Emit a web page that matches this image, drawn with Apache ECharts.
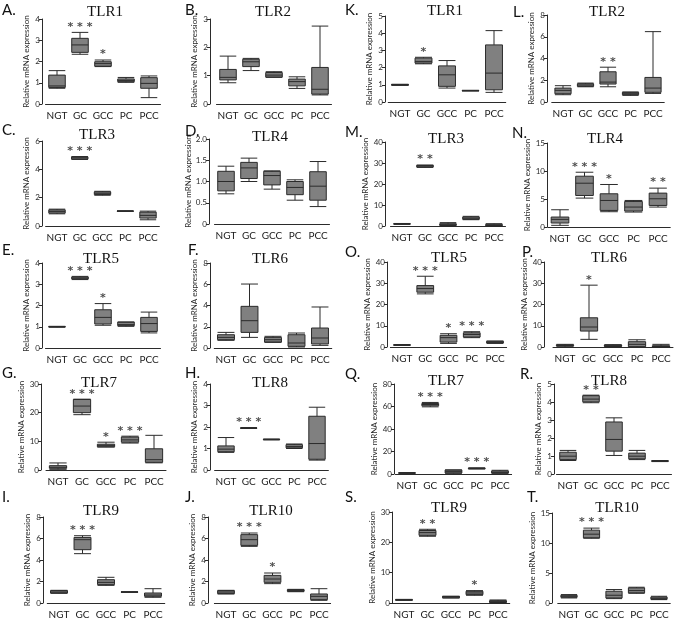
<!DOCTYPE html>
<html><head><meta charset="utf-8">
<script src="https://cdn.jsdelivr.net/npm/echarts@6/dist/echarts.min.js"></script>
<style>html,body{margin:0;padding:0;background:#fff}#c{width:675px;height:621px}</style>
</head><body><div id="c"></div>
<script>
const categories = ['NGT', 'GC', 'GCC', 'PC', 'PCC'];
const panelLetters = ['A','B','C','D','E','F','G','H','I','J','K','L','M','N','O','P','Q','R','S','T'];
const panelTitles = ['TLR1','TLR2','TLR3','TLR4','TLR5','TLR6','TLR7','TLR8','TLR9','TLR10',
                     'TLR1','TLR2','TLR3','TLR4','TLR5','TLR6','TLR7','TLR8','TLR9','TLR10'];
// y axis maxima and tick steps, panels A..T
const yAxisMax  = [4, 3, 6, 2, 4, 8, 30, 4, 8, 8,   5, 8, 40, 15, 40, 40, 80, 5, 30, 15];
const yAxisStep = [1, 1, 2, 0.5, 1, 2, 10, 1, 2, 2, 1, 2, 10, 5, 10, 10, 20, 1, 10, 5];

// box values per group: [min, Q1, median, Q3, max]
const boxA = [[0.74,0.78,0.85,1.36,1.57],[2.34,2.43,2.78,3.09,3.37],[1.76,1.78,1.9,1.99,2.07],[1.02,1.05,1.11,1.18,1.25],[0.3,0.74,0.97,1.24,1.32]];
const sigA = ['','***','*','',''];
const boxB = [[0.75,0.85,0.94,1.22,1.69],[1.18,1.32,1.49,1.58,1.61],[0.94,0.95,1.02,1.11,1.14],[0.55,0.64,0.79,0.88,0.96],[0.32,0.35,0.52,1.29,2.75]];
const sigB = ['','','','',''];
const boxC = [[0.86,0.91,1.03,1.14,1.19],[4.7,4.72,4.81,4.88,4.9],[2.17,2.22,2.31,2.41,2.45],[1.03,1.04,1.05,1.06,1.07],[0.44,0.56,0.75,0.98,1.05]];
const sigC = ['','***','','',''];
const boxD = [[0.71,0.78,1.0,1.24,1.36],[1.0,1.07,1.32,1.45,1.55],[0.82,0.92,1.14,1.24,1.25],[0.56,0.69,0.86,1.0,1.04],[0.41,0.56,0.89,1.23,1.47]];
const sigD = ['','','','',''];
const boxE = [[0.98,0.99,1.0,1.01,1.02],[3.22,3.25,3.29,3.34,3.37],[1.07,1.13,1.44,1.8,2.09],[1.02,1.05,1.1,1.22,1.22],[0.71,0.78,1.15,1.44,1.69]];
const sigE = ['','***','*','',''];
const boxF = [[0.72,0.78,1.0,1.25,1.47],[1.0,1.47,2.57,3.92,6.02],[0.53,0.56,0.78,1.0,1.1],[0.09,0.16,0.47,1.25,1.41],[0.25,0.38,0.94,1.88,3.86]];
const sigF = ['','','','',''];
const boxG = [[0.23,0.59,0.94,1.52,2.46],[19.3,20.0,22.3,24.6,24.7],[8.0,8.1,8.6,9.0,9.7],[9.4,9.7,10.5,11.5,11.8],[2.5,2.7,3.6,7.4,12.1]];
const sigG = ['','***','*','***',''];
const boxH = [[0.82,0.85,0.97,1.12,1.51],[1.93,1.94,1.95,1.96,1.97],[1.40,1.41,1.42,1.43,1.44],[1.0,1.03,1.09,1.18,1.21],[0.46,0.5,1.23,2.5,2.92]];
const sigH = ['','***','','',''];
const boxI = [[0.9,0.93,1.02,1.15,1.18],[4.59,4.96,5.89,6.1,6.26],[1.64,1.71,1.92,2.17,2.39],[1.0,1.01,1.02,1.03,1.04],[0.53,0.62,0.74,0.93,1.33]];
const sigI = ['','***','','',''];
const boxJ = [[0.84,0.87,1.02,1.15,1.18],[5.27,5.36,5.89,6.36,6.51],[1.8,1.92,2.23,2.57,2.79],[1.05,1.09,1.15,1.24,1.27],[0.25,0.31,0.62,0.84,1.33]];
const sigJ = ['','***','*','',''];
const boxK = [[0.97,0.98,1.0,1.02,1.03],[2.22,2.26,2.36,2.55,2.6],[0.81,0.91,1.58,2.1,2.41],[0.64,0.65,0.66,0.67,0.68],[0.56,0.71,1.68,3.32,4.15]];
const sigK = ['','*','','',''];
const boxL = [[0.67,0.76,1.07,1.28,1.5],[1.4,1.44,1.56,1.68,1.74],[1.4,1.65,1.83,2.78,3.2],[0.61,0.67,0.76,0.89,0.92],[0.79,0.89,1.28,2.26,6.47]];
const sigL = ['','','**','',''];
const boxM = [[0.8,0.9,1.0,1.1,1.2],[27.9,28.1,28.6,28.9,29.0],[0.2,0.3,0.6,1.1,1.6],[3.0,3.2,3.7,4.3,4.6],[0.05,0.1,0.3,0.8,1.1]];
const sigM = ['','**','','',''];
const boxN = [[0.3,0.71,1.36,1.78,3.08],[5.16,5.63,7.82,9.07,9.78],[2.73,2.96,4.74,5.93,7.59],[2.67,2.85,3.56,4.56,4.74],[3.56,3.85,5.04,6.05,6.94]];
const sigN = ['','***','*','','**'];
const boxO = [[0.8,0.9,0.95,1.0,1.1],[25.0,25.8,27.5,28.9,33.3],[1.7,2.3,4.4,5.5,6.25],[4.4,4.7,5.9,6.7,7.2],[1.7,1.9,2.2,2.7,2.8]];
const sigO = ['','***','*','***',''];
const boxP = [[0.16,0.6,0.8,1.0,1.25],[3.6,7.5,9.4,13.75,29.1],[0.2,0.3,0.6,0.94,1.1],[0.0,0.16,1.25,2.5,3.4],[0.0,0.05,0.3,0.6,1.25]];
const sigP = ['','*','','',''];
const boxQ = [[0.6,0.8,0.9,1.0,1.2],[59.7,60.6,61.8,62.7,63.6],[0.6,0.9,2.1,3.6,3.6],[4.5,4.6,5.0,5.3,5.4],[0.6,0.8,1.5,2.7,3.3]];
const sigQ = ['','***','','***',''];
const boxR = [[0.75,0.8,0.99,1.21,1.31],[3.96,4.01,4.16,4.35,4.38],[1.03,1.27,1.92,2.89,3.12],[0.8,0.84,0.99,1.16,1.31],[0.69,0.7,0.72,0.74,0.75]];
const sigR = ['','**','','',''];
const boxS = [[0.9,0.95,1.0,1.1,1.2],[22.0,22.3,23.2,23.9,24.3],[1.65,1.7,2.0,2.2,2.2],[2.54,2.76,3.3,3.86,4.08],[0.11,0.2,0.44,0.77,1.0]];
const sigS = ['','**','','*',''];
const boxT = [[0.84,0.95,1.12,1.29,1.4],[10.8,10.85,11.47,12.14,12.48],[0.73,0.84,1.29,1.96,2.24],[1.62,1.68,2.07,2.52,2.63],[0.56,0.62,0.78,1.0,1.12]];
const sigT = ['','***','','',''];

const boxes = [boxA,boxB,boxC,boxD,boxE,boxF,boxG,boxH,boxI,boxJ,boxK,boxL,boxM,boxN,boxO,boxP,boxQ,boxR,boxS,boxT];
const sigs  = [sigA,sigB,sigC,sigD,sigE,sigF,sigG,sigH,sigI,sigJ,sigK,sigL,sigM,sigN,sigO,sigP,sigQ,sigR,sigS,sigT];

// layout (pixels): ax = y-axis x, c0/c4 = first/last category centre, top/bot = plot top/zero line,
// tx,ty = title centre, lx,ly = panel letter left / centre
const layout = [
  {ax:42, c0:57, c4:149, top:19, bot:104, tx:105, ty:12, lx:2, ly:10},   // A
  {ax:210,c0:228,c4:320, top:19, bot:104, tx:273, ty:12, lx:185,ly:10},  // B
  {ax:42, c0:57, c4:148, top:141,bot:226, tx:97,  ty:135,lx:2, ly:130},  // C
  {ax:209,c0:226,c4:318, top:139,bot:224, tx:270, ty:137,lx:185,ly:131}, // D
  {ax:42, c0:57, c4:149, top:263,bot:348, tx:101, ty:259,lx:2, ly:250},  // E
  {ax:210,c0:226,c4:320, top:263,bot:348, tx:270, ty:259,lx:188,ly:250}, // F
  {ax:41, c0:58, c4:154, top:384,bot:470, tx:99,  ty:383,lx:2, ly:373},  // G
  {ax:210,c0:226,c4:317, top:384,bot:470, tx:270, ty:383,lx:185,ly:373}, // H
  {ax:43, c0:59, c4:153, top:517,bot:603, tx:101, ty:511,lx:2, ly:497},  // I
  {ax:208,c0:226,c4:319, top:517,bot:603, tx:271, ty:511,lx:185,ly:497}, // J
  {ax:385,c0:400,c4:494, top:16, bot:102, tx:445, ty:11, lx:345,ly:10},  // K
  {ax:547,c0:563,c4:653, top:15, bot:102, tx:607, ty:12, lx:513,ly:12},  // L
  {ax:385,c0:402,c4:494, top:142,bot:226, tx:446, ty:139,lx:345,ly:132}, // M
  {ax:547,c0:560,c4:658, top:143,bot:227, tx:605, ty:139,lx:512,ly:133}, // N
  {ax:387,c0:402,c4:495, top:262,bot:347, tx:449, ty:258,lx:345,ly:252}, // O
  {ax:544,c0:565,c4:661, top:262,bot:347, tx:609, ty:258,lx:522,ly:252}, // P
  {ax:394,c0:407,c4:500, top:384,bot:474, tx:446, ty:381,lx:345,ly:374}, // Q
  {ax:554,c0:568,c4:660, top:384,bot:474, tx:609, ty:381,lx:520,ly:374}, // R
  {ax:392,c0:404,c4:498, top:512,bot:603, tx:449, ty:508,lx:345,ly:497}, // S
  {ax:552,c0:569,c4:659, top:513,bot:603, tx:617, ty:508,lx:527,ly:497}  // T
];

const chart = echarts.init(document.getElementById('c'), null, {renderer: 'canvas'});
const grids = [], xAxes = [], yAxes = [], series = [], graphics = [];
const ink = '#2b2b2b';
boxes.forEach(function (box, i) {
  const L = layout[i];
  const band = (L.c4 - L.c0) / 4;
  const left = L.c0 - band / 2;
  grids.push({left: left, top: L.top, width: band * 5, height: L.bot - L.top});
  xAxes.push({
    type: 'category', gridIndex: i, data: categories,
    axisLine: {lineStyle: {color: ink, width: 1}},
    axisTick: {alignWithLabel: true, length: 3, lineStyle: {color: ink}},
    axisLabel: {interval: 0, fontSize: 10, color: '#1a1a1a', margin: 7, fontFamily: 'Lato'},
    splitLine: {show: false}
  });
  const step = yAxisStep[i];
  yAxes.push({
    type: 'value', gridIndex: i, min: 0, max: yAxisMax[i], interval: step,
    offset: left - L.ax,
    name: 'Relative mRNA expression', nameLocation: 'middle', nameGap: 12,
    nameTextStyle: {fontSize: 8, color: '#2a2a2a', fontFamily: 'Lato'},
    axisLine: {show: true, lineStyle: {color: ink, width: 1}},
    axisTick: {show: true, length: 3, lineStyle: {color: ink}},
    axisLabel: {fontSize: 8, color: '#2a2a2a', margin: 2, fontFamily: 'Lato',
      formatter: function (v) { return (step < 1 && v !== 0) ? v.toFixed(1) : String(v); }},
    splitLine: {show: false}
  });
  series.push({
    type: 'boxplot', xAxisIndex: i, yAxisIndex: i, data: box,
    boxWidth: ['72%', '72%'], silent: true, animation: false,
    itemStyle: {color: '#808080', borderColor: ink, borderWidth: 1}
  });
  const stars = [];
  sigs[i].forEach(function (s, k) { if (s) stars.push([k, box[k][4], s.split('').join(' ')]); });
  series.push({
    type: 'scatter', xAxisIndex: i, yAxisIndex: i, symbolSize: 0, silent: true, animation: false,
    data: stars,
    label: {show: true, position: 'top', distance: 0, formatter: function (d) { return d.value[2]; },
      fontSize: 11, fontWeight: 'bold', color: '#222', fontFamily: 'DejaVu Sans'}
  });
  graphics.push({type: 'text', x: L.tx, y: L.ty, silent: true,
    style: {text: panelTitles[i], font: '15px "Liberation Serif"', fill: '#111', textAlign: 'center', textVerticalAlign: 'middle'}});
  graphics.push({type: 'text', x: L.lx, y: L.ly, silent: true,
    style: {text: panelLetters[i] + '.', font: '15px Lato', fill: '#111', textAlign: 'left', textVerticalAlign: 'middle'}});
});

chart.setOption({
  backgroundColor: '#fff',
  animation: false,
  grid: grids, xAxis: xAxes, yAxis: yAxes, series: series, graphic: graphics
});
</script></body></html>
